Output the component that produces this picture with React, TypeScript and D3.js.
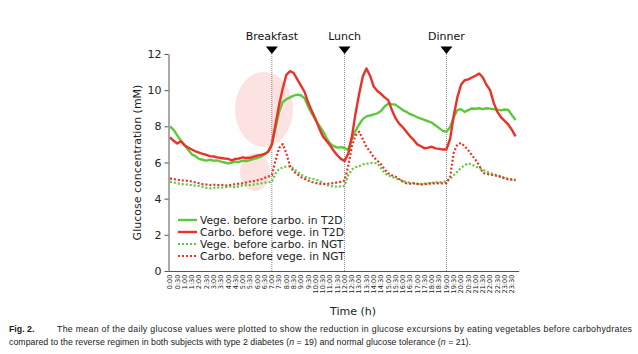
import React, { useRef, useEffect } from 'react';
import * as d3 from 'd3';

// mean glucose (mM) every 15 min, 0:00 .. 23:45
const vegeT2D = [
	8.0, 7.8, 7.5, 7.2, 6.95, 6.7, 6.45, 6.35, 6.2, 6.15, 6.1, 6.15, 6.1, 6.12, 6.05, 6.0,
	5.95, 6.0, 6.05, 6.03, 6.1, 6.08, 6.13, 6.2, 6.25, 6.32, 6.45, 6.6, 7.0, 7.9, 8.8, 9.35,
	9.5, 9.6, 9.7, 9.75, 9.72, 9.55, 9.1, 8.7, 8.35, 8.05, 7.75, 7.35, 7.06, 6.9, 6.82, 6.85,
	6.8, 6.7, 7.33, 7.75, 8.1, 8.4, 8.55, 8.6, 8.66, 8.72, 8.85, 9.1, 9.25, 9.22, 9.2, 9.05,
	8.9, 8.8, 8.67, 8.6, 8.5, 8.43, 8.35, 8.28, 8.2, 8.05, 7.9, 7.75, 7.7, 7.95, 8.5, 8.9,
	8.95, 8.8, 8.9, 8.99, 8.97, 9.0, 8.95, 9.0, 8.98, 8.95, 8.92, 8.88, 8.93, 8.9, 8.62, 8.35,
];
const carboT2D = [
	7.39, 7.2, 7.05, 7.18, 6.95, 6.83, 6.72, 6.62, 6.55, 6.48, 6.42, 6.35, 6.33, 6.28, 6.25, 6.22,
	6.2, 6.12, 6.2, 6.22, 6.28, 6.25, 6.26, 6.32, 6.38, 6.42, 6.47, 6.6, 7.0, 8.1, 9.2, 10.1,
	10.85, 11.05, 10.95, 10.6, 10.25, 9.9, 9.3, 8.85, 8.4, 7.9, 7.45, 7.2, 6.95, 6.65, 6.4, 6.2,
	6.08, 6.5, 7.42, 8.7, 9.8, 10.75, 11.2, 10.8, 10.2, 9.95, 9.8, 9.6, 9.45, 8.9, 8.45, 8.15,
	7.95, 7.7, 7.45, 7.25, 7.0, 6.9, 6.78, 6.82, 6.87, 6.78, 6.75, 6.72, 6.72, 7.3, 8.6, 9.6,
	10.3, 10.55, 10.6, 10.7, 10.8, 10.92, 10.7, 10.3, 10.0, 9.3, 8.8, 8.5, 8.3, 8.1, 7.8, 7.45,
];
const vegeNGT = [
	4.93, 4.9, 4.85, 4.8, 4.8, 4.78, 4.75, 4.72, 4.7, 4.65, 4.6, 4.57, 4.6, 4.62, 4.6, 4.63,
	4.65, 4.68, 4.62, 4.7, 4.72, 4.75, 4.75, 4.78, 4.82, 4.85, 4.88, 4.92, 4.93, 5.4, 5.65, 5.72,
	5.78, 5.8, 5.65, 5.48, 5.35, 5.22, 5.15, 5.1, 5.05, 5.0, 4.85, 4.75, 4.7, 4.68, 4.66, 4.68,
	4.7, 5.3, 5.62, 5.74, 5.8, 5.9, 5.93, 5.97, 5.98, 5.95, 5.7, 5.42, 5.28, 5.2, 5.13, 5.05,
	4.98, 4.92, 4.88, 4.85, 4.82, 4.81, 4.83, 4.85, 4.88, 4.9, 4.9, 4.93, 4.97, 5.08, 5.3, 5.5,
	5.7, 5.85, 5.95, 5.88, 5.78, 5.7, 5.6, 5.5, 5.42, 5.35, 5.3, 5.22, 5.15, 5.1, 5.08, 5.03,
];
const carboNGT = [
	5.12, 5.08, 5.05, 5.02, 5.0, 4.98, 4.95, 4.9, 4.85, 4.8, 4.78, 4.75, 4.77, 4.75, 4.76, 4.74,
	4.72, 4.78, 4.8, 4.83, 4.85, 4.9, 4.95, 4.97, 5.02, 5.07, 5.15, 5.22, 5.3, 6.1, 6.8, 7.02,
	6.5, 5.8, 5.5, 5.35, 5.2, 5.1, 5.0, 4.92, 4.87, 4.83, 4.81, 4.82, 4.84, 4.86, 4.9, 4.93,
	5.0, 5.8, 6.9, 7.5, 7.7, 7.3, 6.87, 6.6, 6.3, 6.1, 5.9, 5.62, 5.4, 5.3, 5.22, 5.08,
	4.95, 4.85, 4.83, 4.85, 4.82, 4.79, 4.8, 4.83, 4.85, 4.84, 4.86, 4.85, 4.87, 5.2, 6.55, 7.0,
	7.08, 6.9, 6.68, 6.4, 6.15, 5.85, 5.42, 5.38, 5.33, 5.3, 5.25, 5.2, 5.12, 5.07, 5.05, 5.03,
];

const timeLabels = d3.range(0, 24, 0.5).map(h => `${Math.floor(h)}:${h % 1 ? '30' : '00'}`);
const yTicks = [0, 2, 4, 6, 8, 10, 12];
const meals = [
	{ name: 'Breakfast', hour: 7 },
	{ name: 'Lunch', hour: 12 },
	{ name: 'Dinner', hour: 19 },
];

const GREEN = '#5dc83c';
const RED = '#ea3227';

const series = [
	{ label: 'Vege. before carbo. in T2D', values: vegeT2D, color: GREEN, dotted: false },
	{ label: 'Carbo. before vege. in T2D', values: carboT2D, color: RED, dotted: false },
	{ label: 'Vege. before carbo. in NGT', values: vegeNGT, color: GREEN, dotted: true },
	{ label: 'Carbo. before vege. in NGT', values: carboNGT, color: RED, dotted: true },
];

const WIDTH = 638;
const HEIGHT = 354;
const FONT = '"DejaVu Sans", Verdana, sans-serif';

const GlucoseChart: React.FC = () => {
	const svgRef = useRef<SVGSVGElement | null>(null);

	useEffect(() => {
		if (!svgRef.current) return;
		const svg = d3.select(svgRef.current);
		svg.selectAll('*').remove();

		const x = d3.scaleLinear().domain([0, 24]).range([170, 519.2]);
		const y = d3.scaleLinear().domain([0, 12]).range([271, 54]);
		const axisX = 168.5;

		// highlight ellipses
		svg.append('ellipse')
			.attr('cx', 264).attr('cy', 109.5).attr('rx', 29).attr('ry', 37.5)
			.attr('fill', '#fde2e2');
		svg.append('ellipse')
			.attr('cx', 255).attr('cy', 172).attr('rx', 15).attr('ry', 19)
			.attr('fill', '#fde2e2');

		// meal markers
		const meal = svg.append('g').selectAll('g').data(meals).join('g')
			.attr('transform', d => `translate(${x(d.hour)},0)`);
		meal.append('line')
			.attr('y1', y(12)).attr('y2', y(0))
			.attr('stroke', '#666').attr('stroke-width', 0.8)
			.attr('stroke-dasharray', '1,1');
		meal.append('path')
			.attr('d', `M-6,46.5L6,46.5L0,${y(12)}Z`)
			.attr('fill', '#000');
		meal.append('text')
			.attr('y', 40)
			.attr('text-anchor', 'middle')
			.attr('font-family', FONT).attr('font-size', 11)
			.attr('fill', '#111')
			.text(d => d.name);

		// y axis
		svg.append('g')
			.attr('transform', `translate(${axisX},0)`)
			.call(d3.axisLeft(y).tickValues(yTicks).tickSize(4).tickSizeOuter(0).tickPadding(3))
			.attr('font-family', FONT).attr('font-size', 11)
			.call(g => g.selectAll('.domain, .tick line').attr('stroke', '#555'))
			.call(g => g.selectAll('.tick text').attr('fill', '#222'));

		svg.append('text')
			.attr('transform', `translate(141,${(y(0) + y(12)) / 2}) rotate(-90)`)
			.attr('text-anchor', 'middle')
			.attr('font-family', FONT).attr('font-size', 11)
			.attr('fill', '#222')
			.text('Glucose concentration (mM)');

		// x axis
		const xa = svg.append('g');
		xa.append('line')
			.attr('x1', axisX).attr('x2', x(24))
			.attr('y1', 271.5).attr('y2', 271.5)
			.attr('stroke', '#555');
		xa.selectAll('text').data(timeLabels).join('text')
			.attr('transform', (_, i) => `translate(${x(i / 2)},274.5) rotate(-90)`)
			.attr('text-anchor', 'end')
			.attr('dy', '0.35em')
			.attr('font-family', FONT).attr('font-size', 6.6)
			.attr('fill', '#222')
			.text(d => d);

		svg.append('text')
			.attr('x', 353).attr('y', 315)
			.attr('text-anchor', 'middle')
			.attr('font-family', FONT).attr('font-size', 11)
			.attr('fill', '#222')
			.text('Time (h)');

		// lines
		const line = d3.line<number>()
			.x((_, i) => x(i / 4))
			.y(d => y(d));

		svg.append('g').selectAll('path').data(series).join('path')
			.attr('fill', 'none')
			.attr('stroke', d => d.color)
			.attr('stroke-width', d => d.dotted ? 2.2 : 2.4)
			.attr('stroke-dasharray', d => d.dotted ? '2,2' : null)
			.attr('stroke-linejoin', 'round')
			.attr('d', d => line(d.values));

		// legend
		const legend = svg.append('g').selectAll('g').data(series).join('g')
			.attr('transform', (_, i) => `translate(178,${220 + i * 12})`);
		legend.append('line')
			.attr('x1', 0).attr('x2', 19)
			.attr('stroke', d => d.color)
			.attr('stroke-width', d => d.dotted ? 2.2 : 2.4)
			.attr('stroke-dasharray', d => d.dotted ? '2,2' : null);
		legend.append('text')
			.attr('x', 22).attr('dy', '0.35em')
			.attr('font-family', FONT).attr('font-size', 10.7)
			.attr('fill', '#222')
			.text(d => d.label);

		// caption
		const cap = svg.append('g')
			.attr('font-family', '"Liberation Sans", Arial, sans-serif')
			.attr('font-size', 8.8)
			.attr('fill', '#1a1a1a');
		cap.append('text')
			.attr('x', 9).attr('y', 332)
			.attr('font-weight', 'bold')
			.text('Fig. 2.');
		cap.append('text')
			.attr('x', 57).attr('y', 332)
			.attr('textLength', 575).attr('lengthAdjust', 'spacing')
			.text('The mean of the daily glucose values were plotted to show the reduction in glucose excursions by eating vegetables before carbohydrates');
		const l2 = cap.append('text')
			.attr('x', 9).attr('y', 345)
			.attr('textLength', 462).attr('lengthAdjust', 'spacing');
		l2.append('tspan').text('compared to the reverse regimen in both subjects with type 2 diabetes (');
		l2.append('tspan').attr('font-style', 'italic').text('n');
		l2.append('tspan').text(' = 19) and normal glucose tolerance (');
		l2.append('tspan').attr('font-style', 'italic').text('n');
		l2.append('tspan').text(' = 21).');

		return () => { svg.selectAll('*').remove(); };
	}, []);

	return (
		<svg
			ref={svgRef}
			width={WIDTH}
			height={HEIGHT}
			style={{ position: 'absolute', left: 0, top: 0, background: '#fff' }}
		/>
	);
};

export default function App() {
	return <GlucoseChart />;
}
